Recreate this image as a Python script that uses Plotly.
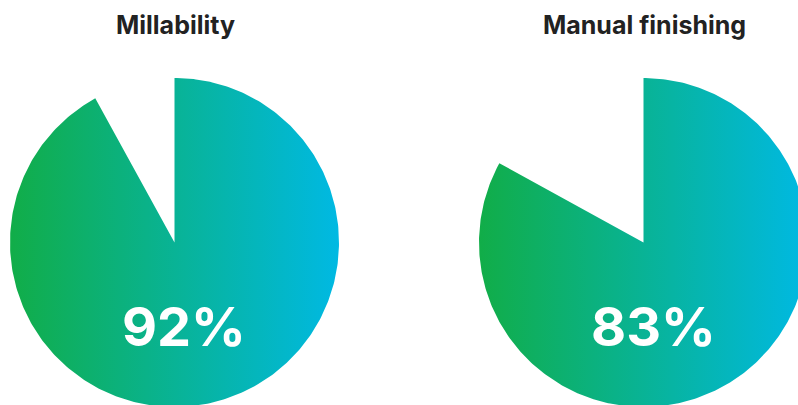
import numpy as np
import plotly.graph_objects as go

# Data
labels = ["Millability", "Manual finishing"]
values = [92, 83]  # percent
pct_text = ["92%", "83%"]

# Layout constants (pixel space)
W, H = 798, 405
centers = [(174.5, 242.5), (643.5, 242.5)]
radius = 164.5
grad_colors = [[0, "#11ad48"], [1, "#00b9e3"]]

fig = go.Figure()
for (cx, cy), v, lab, txt in zip(centers, values, labels, pct_text):
    theta = np.linspace(0, 2 * np.pi * v / 100.0, 400)
    xs = np.concatenate([[cx], cx + radius * np.sin(theta), [cx]])
    ys = np.concatenate([[cy], cy - radius * np.cos(theta), [cy]])
    fig.add_trace(go.Scatter(
        x=xs, y=ys, mode="lines", fill="toself",
        line=dict(width=0, color="rgba(0,0,0,0)"),
        fillgradient=dict(type="horizontal", colorscale=grad_colors,
                          start=cx - radius, stop=cx + radius),
        hoverinfo="skip", showlegend=False,
    ))
    fig.add_annotation(x=cx + 1, y=25, text=f"<b>{lab}</b>", showarrow=False,
                       font=dict(family="Inter", size=25, color="#222222"),
                       xanchor="center", yanchor="middle")
    fig.add_annotation(x=cx + 9.5, y=326, text=f"<b>{txt}</b>", showarrow=False,
                       font=dict(family="Inter", size=54, color="#ffffff"),
                       xanchor="center", yanchor="middle")

fig.update_layout(
    width=W, height=H,
    margin=dict(l=0, r=0, t=0, b=0),
    paper_bgcolor="white", plot_bgcolor="white",
    xaxis=dict(range=[0, W], visible=False, fixedrange=True),
    yaxis=dict(range=[H, 0], visible=False, fixedrange=True),
)
fig.write_html("out.html", config={"displayModeBar": False},
               post_script="document.body.style.margin='0';document.body.style.overflow='hidden';")
